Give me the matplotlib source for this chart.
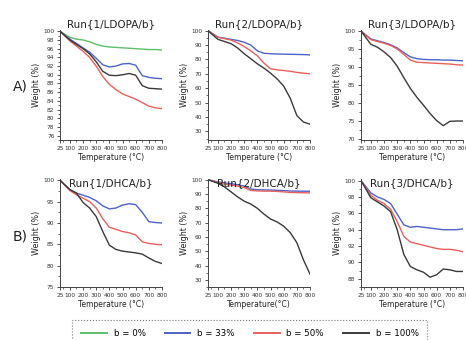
import matplotlib
matplotlib.use("Agg")
import matplotlib.pyplot as plt
from matplotlib.ticker import MultipleLocator

# temperature grid (°C) shared by all curves
temp = [25, 100, 150, 200, 250, 300, 350, 400, 450, 500, 550, 600, 650, 700, 750, 800]
temp_ticks = [25, 100, 200, 300, 400, 500, 600, 700, 800]

labels = ["b = 0%", "b = 33%", "b = 50%", "b = 100%"]
colors = ["#5cbf6a", "#4d63c9", "#e8605c", "#3a3a3a"]

# A) L-DOPA runs
ldopa1_b0 = [100, 98.6, 98.2, 98.0, 97.6, 97.0, 96.6, 96.4, 96.3, 96.2, 96.1, 96.0, 95.9, 95.8, 95.8, 95.7]
ldopa1_b33 = [100, 98.2, 97.2, 96.2, 95.2, 93.8, 92.3, 91.8, 92.0, 92.5, 92.6, 92.2, 89.8, 89.4, 89.2, 89.1]
ldopa1_b50 = [100, 97.8, 96.6, 95.4, 94.0, 92.0, 89.6, 87.8, 86.6, 85.6, 85.0, 84.4, 83.6, 82.8, 82.4, 82.2]
ldopa1_b100 = [100, 98.0, 97.0, 96.0, 94.8, 93.0, 90.8, 89.9, 89.8, 90.0, 90.3, 89.9, 87.5, 86.9, 86.8, 86.7]

ldopa2_b33 = [100, 95.5, 94.8, 94.0, 93.2, 92.0, 90.0, 86.0, 84.3, 84.0, 83.8, 83.7, 83.6, 83.5, 83.4, 83.2]
ldopa2_b50 = [100, 95.5, 94.5, 93.5, 91.5, 89.0, 86.0, 82.5, 77.5, 73.5, 72.8, 72.3, 71.8, 71.0, 70.5, 70.0]
ldopa2_b100 = [100, 94.0, 92.5, 91.0, 88.0, 84.0, 80.5, 77.0, 74.0, 70.5, 66.5, 61.5, 53.0, 41.0, 36.5, 35.0]

ldopa3_b33 = [100, 97.8, 97.3, 96.8, 96.2, 95.3, 94.0, 92.8, 92.3, 92.1, 92.0, 92.0, 91.9, 91.9, 91.8, 91.7]
ldopa3_b50 = [100, 97.6, 97.1, 96.6, 96.0, 95.0, 93.5, 91.9, 91.3, 91.2, 91.1, 91.0, 90.9, 90.8, 90.6, 90.5]
ldopa3_b100 = [100, 96.3, 95.5, 94.2, 92.6, 90.2, 87.0, 84.0, 81.5, 79.3, 77.0, 75.0, 73.6, 74.8, 74.9, 74.9]

# B) DHCA runs
dhca1_b33 = [100, 97.8, 97.0, 96.5, 96.0, 95.2, 94.0, 93.3, 93.5, 94.2, 94.5, 94.3, 92.5, 90.3, 90.1, 90.0]
dhca1_b50 = [100, 97.6, 96.6, 95.8, 95.0, 93.5, 91.0, 89.0, 88.5, 88.0, 87.7, 87.2, 85.6, 85.2, 85.0, 84.9]
dhca1_b100 = [100, 97.8, 97.0, 94.8, 93.5, 91.5, 88.0, 84.8, 83.8, 83.4, 83.2, 83.0, 82.7, 81.8, 81.0, 80.5]

dhca2_b33 = [100, 98.5, 97.8, 97.2, 96.5, 95.5, 93.5, 93.0, 92.9, 92.8, 92.6, 92.4, 92.1, 92.0, 92.0, 91.9]
dhca2_b50 = [100, 98.0, 97.0, 96.3, 95.5, 94.5, 92.5, 92.2, 92.0, 92.0, 91.8, 91.5, 91.1, 91.0, 90.9, 90.8]
dhca2_b100 = [100, 97.5, 95.0, 91.5, 88.0, 85.0, 83.0, 80.0, 76.0, 72.5, 70.5, 67.5, 63.0, 56.0, 44.0, 34.0]

dhca3_b33 = [100, 98.5, 98.0, 97.7, 97.2, 95.9, 94.6, 94.3, 94.4, 94.3, 94.2, 94.1, 94.0, 94.0, 94.0, 94.1]
dhca3_b50 = [100, 98.2, 97.6, 97.2, 96.5, 95.0, 93.2, 92.5, 92.3, 92.1, 91.9, 91.7, 91.6, 91.6, 91.5, 91.3]
dhca3_b100 = [100, 97.9, 97.4, 96.9, 96.2, 94.0, 91.0, 89.5, 89.1, 88.8, 88.2, 88.5, 89.2, 89.1, 88.9, 88.9]

panels = [
    ("Run{1/LDOPA/b}", [ldopa1_b0, ldopa1_b33, ldopa1_b50, ldopa1_b100], (75, 100.3), 2, 1),
    ("Run{2/LDOPA/b}", [None, ldopa2_b33, ldopa2_b50, ldopa2_b100], (24, 100.5), 10, 5),
    ("Run{3/LDOPA/b}", [None, ldopa3_b33, ldopa3_b50, ldopa3_b100], (69.6, 100.3), 5, 2.5),
    ("Run{1/DHCA/b}", [None, dhca1_b33, dhca1_b50, dhca1_b100], (75, 100.3), 5, 2.5),
    ("Run{2/DHCA/b}", [None, dhca2_b33, dhca2_b50, dhca2_b100], (25, 100.5), 10, 5),
    ("Run{3/DHCA/b}", [None, dhca3_b33, dhca3_b50, dhca3_b100], (87, 100.2), 2, 1),
]

W, H = 466, 340
fig = plt.figure(figsize=(W / 100, H / 100), dpi=100)

lefts = [60, 208, 361]
rows = [(30, 140), (179, 287)]
aw = 102

for i, (title, series, ylim, major, minor) in enumerate(panels):
    r, c = divmod(i, 3)
    top, bot = rows[r]
    ax = fig.add_axes([lefts[c] / W, 1 - bot / H, aw / W, (bot - top) / H])
    for vals, col, lab in zip(series, colors, labels):
        if vals is None:
            continue
        ax.plot(temp, vals, color=col, lw=1.0, label=lab)
    ax.set_xlim(25, 800)
    ax.set_ylim(*ylim)
    ax.set_xticks(temp_ticks)
    ax.xaxis.set_minor_locator(MultipleLocator(50))
    ax.yaxis.set_major_locator(MultipleLocator(major))
    ax.yaxis.set_minor_locator(MultipleLocator(minor))
    ax.tick_params(which="major", labelsize=4.2, length=2.5, width=0.6, pad=1.5, colors="#333333")
    ax.tick_params(which="minor", length=1.5, width=0.5, colors="#333333")
    for s in ["top", "right"]:
        ax.spines[s].set_visible(False)
    for s in ["left", "bottom"]:
        ax.spines[s].set_linewidth(0.7)
        ax.spines[s].set_color("#444444")
    ty = 1.055 if r == 0 else 0.965
    ax.text(0.5, ty, title, transform=ax.transAxes, ha="center", va="center",
            fontsize=7.5, color="#222222")
    xl = "Temperature(°C)" if i == 4 else "Temperature (°C)"
    ax.set_xlabel(xl, fontsize=5.5, labelpad=1.5, color="#222222")
    ax.set_ylabel("Weight (%)", fontsize=5.8, labelpad=2, color="#222222")

fig.text(13 / W, 1 - 87 / H, "A)", fontsize=10, va="center", ha="left", color="#222222")
fig.text(13 / W, 1 - 237 / H, "B)", fontsize=10, va="center", ha="left", color="#222222")

handles = [plt.Line2D([], [], color=c, lw=1.4) for c in colors]
leg = fig.legend(handles, labels, loc="upper left", bbox_to_anchor=(68 / W, 1 - 316 / H),
                 ncol=4, fontsize=6.2, frameon=True, fancybox=False,
                 handlelength=3.0, handletextpad=0.8, columnspacing=2.2, borderpad=1.0)
frame = leg.get_frame()
frame.set_linestyle(":")
frame.set_edgecolor("#555555")
frame.set_linewidth(0.8)

fig.savefig("out.png", dpi=100)
